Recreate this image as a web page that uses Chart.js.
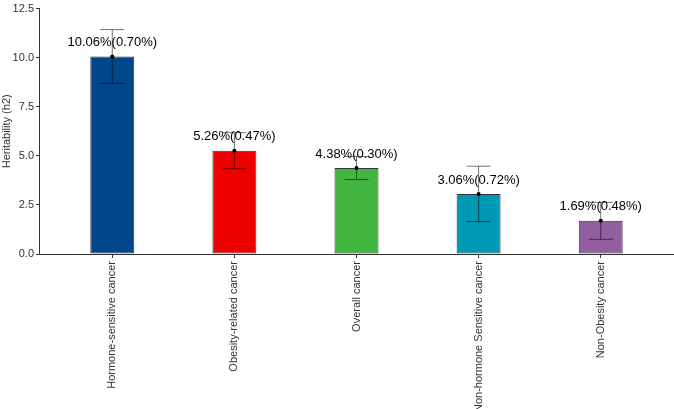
<!DOCTYPE html>
<html>
<head>
<meta charset="utf-8">
<script src="https://cdn.jsdelivr.net/npm/chart.js@4.4.1/dist/chart.umd.min.js"></script>
<style>
  html, body { margin: 0; padding: 0; background: #fff; }
  #wrap { width: 674px; height: 409px; }
</style>
</head>
<body>
<div id="wrap"><canvas id="chart"></canvas></div>
<script>
// --- data
const categories = [
  "Hormone-sensitive cancer",
  "Obesity-related cancer",
  "Overall cancer",
  "Non-hormone Sensitive cancer",
  "Non-Obesity cancer"
];
const heritability = [10.06, 5.26, 4.38, 3.06, 1.69];
const stdErr = [0.70, 0.47, 0.30, 0.72, 0.48];
const ciHalf = [1.37, 0.92, 0.59, 1.41, 0.94];
const barColors = ["#00468B", "#ED0000", "#42B540", "#0099B4", "#925E9F"];
const yTicks = [0, 2.5, 5, 7.5, 10, 12.5];

const FONT = "'Liberation Sans', Arial, sans-serif";

// error bars, dots and value labels
const errorBarPlugin = {
  id: "errorBars",
  afterDatasetsDraw(chart) {
    const { ctx, scales: { x, y } } = chart;
    ctx.save();
    heritability.forEach((v, i) => {
      const cx = x.getPixelForValue(i + 1);
      const top = y.getPixelForValue(v + ciHalf[i]);
      const bot = y.getPixelForValue(v - ciHalf[i]);
      const cap = 12;
      ctx.strokeStyle = "rgba(0,0,0,0.55)";
      ctx.lineWidth = 1;
      ctx.beginPath();
      ctx.moveTo(cx, top); ctx.lineTo(cx, bot);
      ctx.moveTo(cx - cap, top); ctx.lineTo(cx + cap, top);
      ctx.moveTo(cx - cap, bot); ctx.lineTo(cx + cap, bot);
      ctx.stroke();

      const cy = y.getPixelForValue(v);
      ctx.fillStyle = "#000";
      ctx.beginPath();
      ctx.arc(cx, cy, 2, 0, Math.PI * 2);
      ctx.fill();

      ctx.font = "13px " + FONT;
      ctx.textAlign = "center";
      ctx.textBaseline = "middle";
      ctx.fillStyle = "#000";
      ctx.fillText(v.toFixed(2) + "%(" + stdErr[i].toFixed(2) + "%)", cx, cy - 14);
    });
    ctx.restore();
  }
};

const ctx = document.getElementById("chart").getContext("2d");
new Chart(ctx, {
  type: "bar",
  data: {
    datasets: [{
      data: heritability.map((v, i) => ({ x: i + 1, y: v })),
      backgroundColor: barColors,
      borderColor: "#333",
      borderWidth: 1,
      borderSkipped: false,
      barPercentage: 0.36,
      categoryPercentage: 1
    }]
  },
  options: {
    responsive: true,
    maintainAspectRatio: false,
    animation: false,
    layout: { padding: { top: 4, right: 0, left: 0, bottom: 0 } },
    plugins: {
      legend: { display: false },
      tooltip: { enabled: false }
    },
    scales: {
      x: {
        type: "linear",
        min: 0.4,
        max: 5.6,
        offset: false,
        afterBuildTicks: (scale) => {
          scale.ticks = categories.map((c, i) => ({ value: i + 1 }));
        },
        afterFit: (scale) => { scale.height = 155; },
        grid: { offset: false, drawOnChartArea: false, drawTicks: true, tickLength: 4, color: "#333" },
        border: { display: true, color: "#333", width: 1 },
        ticks: {
          autoSkip: false,
          minRotation: 90,
          maxRotation: 90,
          padding: 3,
          color: "#333",
          font: { family: FONT, size: 11 },
          callback: (v) => categories[v - 1]
        }
      },
      y: {
        min: 0,
        max: 12.5,
        afterBuildTicks: (scale) => {
          scale.ticks = yTicks.map(v => ({ value: v }));
        },
        afterFit: (scale) => { scale.width = 39; },
        grid: { drawOnChartArea: false, drawTicks: true, tickLength: 3, color: "#333" },
        border: { display: true, color: "#333", width: 1 },
        title: {
          display: true,
          text: "Heritability (h2)",
          color: "#333",
          font: { family: FONT, size: 11 },
          padding: { top: 0, bottom: 0 }
        },
        ticks: {
          padding: 2,
          color: "#333",
          font: { family: FONT, size: 11 },
          callback: (v) => v.toFixed(1)
        }
      }
    }
  },
  plugins: [errorBarPlugin]
});
</script>
</body>
</html>
